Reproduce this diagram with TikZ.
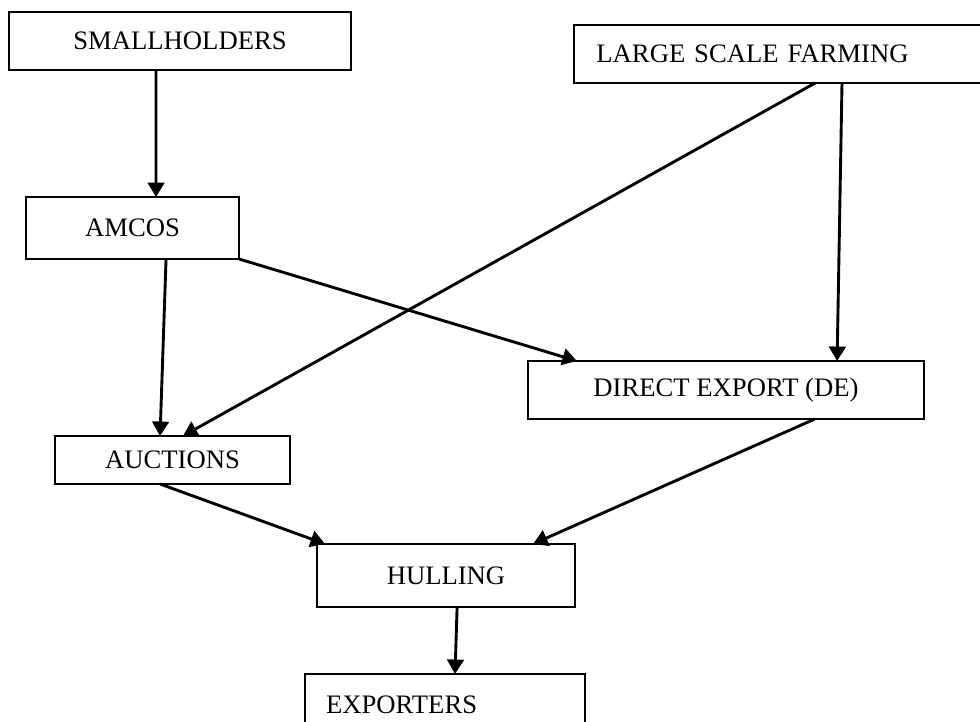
\documentclass[tikz,border=0pt]{standalone}
\usepackage{fontspec}
\setmainfont{Liberation Serif}
\usepackage{tikz}
\usetikzlibrary{arrows.meta,positioning}

\begin{document}
\begin{tikzpicture}[
  x=0.45pt, y=-0.45pt,
  box/.style={rectangle,draw,line width=0.9pt,outer sep=0pt,inner sep=0pt,
              font=\fontsize{12}{14}\selectfont},
  flow/.style={-{Triangle[width=7.5pt,length=6.5pt]},line width=1.3pt}
]
  \useasboundingbox (0,0) rectangle (980,722);

  % Nodes
  \node[box,minimum width=153.9pt,minimum height=26.1pt] (small) at (180,41) {SMALLHOLDERS};
  \node[box,minimum width=187.2pt,minimum height=26.1pt,text width=167pt,
        inner xsep=10pt,align=left] (lsf) at (782,54) {LARGE SCALE FARMING};
  \node[box,minimum width=95.9pt,minimum height=27.9pt] (amcos) at (132.5,228) {AMCOS};
  \node[box,minimum width=178.2pt,minimum height=26.1pt] (de) at (726,390) {DIRECT EXPORT (DE)};
  \node[box,minimum width=105.8pt,minimum height=21.6pt] (auct) at (172.5,460) {AUCTIONS};
  \node[box,minimum width=116.1pt,minimum height=28.4pt] (hull) at (446,575.5) {HULLING};
  \node[box,minimum width=126pt,minimum height=27.9pt,text width=107pt,
        inner xsep=9.5pt,align=left] (exp) at (445,705) {EXPORTERS};

  % Flows
  \draw[flow] ([xshift=-10.8pt]small.south) -- ([xshift=10.6pt]amcos.north);
  \draw[flow] ([xshift=15.1pt]amcos.south) -- ([xshift=-5.6pt]auct.north);
  \draw[flow] (amcos.south east) -- ([xshift=22pt]de.north west);
  \draw[flow] ([xshift=14.9pt]lsf.south) -- ([xshift=4.7pt]auct.north);
  \draw[flow] ([xshift=27pt]lsf.south) -- ([xshift=50pt]de.north);
  \draw[flow] ([xshift=-5.6pt]auct.south) -- ([xshift=3.6pt]hull.north west);
  \draw[flow] ([xshift=40pt]de.south) -- ([xshift=39.2pt]hull.north);
  \draw[flow] ([xshift=5pt]hull.south) -- ([xshift=4.5pt]exp.north);
\end{tikzpicture}
\end{document}
